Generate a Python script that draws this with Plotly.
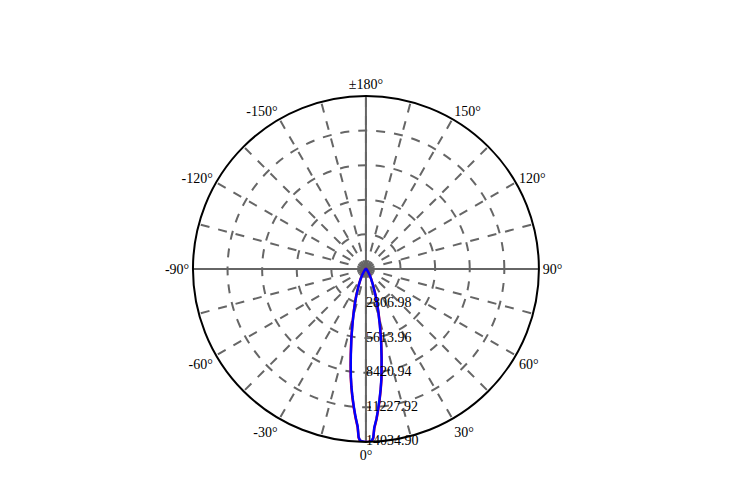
import plotly.graph_objects as go

# Luminous intensity distribution (cd), two C-planes
theta = [-180, -150, -120, -90, -80, -70, -60, -50, -45, -40, -36, -32, -28, -24, -20,
         -18, -16, -14, -12, -10, -9, -8, -7, -6, -5, -4, -3, -2.5, -2, -1, 0,
         1, 2, 2.5, 3, 4, 5, 6, 7, 8, 9, 10, 12, 14, 16, 18, 20,
         24, 28, 32, 36, 40, 45, 50, 60, 70, 80, 90, 120, 150, 180]
c0_c180 = [20, 20, 20, 25, 30, 35, 45, 80, 120, 210, 330, 540, 900, 1420, 2250,
           2850, 3550, 4450, 5650, 7050, 7900, 8800, 9650, 10450, 11250, 12050, 12800, 13650, 13930, 14010, 14034.90,
           14015, 13940, 13680, 12900, 12200, 11400, 10600, 9800, 9000, 8100, 7300, 5900, 4650, 3650, 2900, 2250,
           1350, 850, 520, 320, 200, 120, 80, 40, 25, 20, 20, 20, 20, 20]
c90_c270 = [20, 20, 20, 25, 30, 35, 45, 85, 125, 220, 340, 560, 920, 1450, 2300,
            2900, 3600, 4500, 5700, 7100, 7950, 8850, 9700, 10500, 11300, 12100, 12850, 13700, 13950, 14020, 14034.90,
            14020, 13960, 13720, 12950, 12250, 11450, 10650, 9850, 9050, 8150, 7350, 5950, 4700, 3700, 2950, 2300,
            1380, 870, 530, 330, 210, 125, 85, 42, 25, 20, 20, 20, 20, 20]

r_max = 14034.90
r_ticks = [2806.98, 5613.96, 8420.94, 11227.92, 14034.90]
ang_vals = list(range(0, 360, 15))
ang_labels = {0: "0°", 30: "30°", 60: "60°", 90: "90°", 120: "120°", 150: "150°",
              180: "±180°", 210: "-150°", 240: "-120°", 270: "-90°", 300: "-60°", 330: "-30°"}

font = dict(family="Liberation Serif, Times New Roman, serif", size=14, color="black")
grey = "#666666"

fig = go.Figure()

# solid main axes (0/90/180/270)
axes_theta, axes_r = [], []
for a in [0, 90, 180, 270]:
    axes_theta += [a, a, None]
    axes_r += [0, r_max, None]
fig.add_trace(go.Scatterpolar(theta=axes_theta, r=axes_r, mode="lines",
                              line=dict(color=grey, width=2), hoverinfo="skip"))

fig.add_trace(go.Scatterpolar(theta=theta, r=c90_c270, mode="lines",
                              line=dict(color="red", width=2.5), name="C90-C270"))
fig.add_trace(go.Scatterpolar(theta=theta, r=c0_c180, mode="lines",
                              line=dict(color="blue", width=2.5), name="C0-C180"))

# radial tick labels along 0°
fig.add_trace(go.Scatterpolar(theta=[0] * len(r_ticks), r=r_ticks, mode="text",
                              text=["%.2f" % v for v in r_ticks], textposition="middle right",
                              textfont=font, hoverinfo="skip"))

fig.update_layout(
    width=744,
    height=477,
    margin=dict(l=0, r=0, t=0, b=0),
    paper_bgcolor="white",
    showlegend=False,
    font=font,
    polar=dict(
        domain=dict(x=[0.2486, 0.7136], y=[0.0902, 0.8157]),
        bgcolor="white",
        angularaxis=dict(
            direction="counterclockwise",
            rotation=-90,
            tickmode="array",
            tickvals=ang_vals,
            ticktext=[ang_labels.get(v, "") for v in ang_vals],
            ticks="",
            showline=True,
            linecolor="black",
            linewidth=2,
            gridcolor=grey,
            gridwidth=1.5,
            griddash="dash",
            tickfont=font,
        ),
        radialaxis=dict(
            range=[0, r_max],
            tickmode="array",
            tickvals=r_ticks,
            showticklabels=False,
            ticks="",
            showline=False,
            gridcolor=grey,
            gridwidth=1.5,
            griddash="dash",
            angle=-90,
        ),
    ),
)

fig.write_html("out.html")
